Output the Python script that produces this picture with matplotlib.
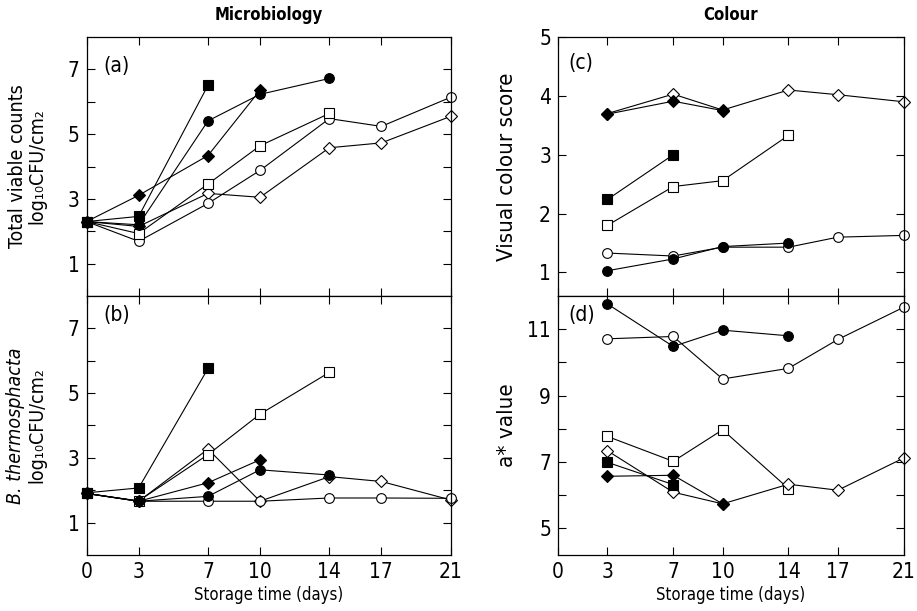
import matplotlib
matplotlib.use("Agg")
import matplotlib.pyplot as plt
import matplotlib.font_manager as fm
from matplotlib.ticker import FixedLocator

# the reference uses a condensed sans; take one if the machine has it
narrow = None
for f in fm.fontManager.ttflist:
    if ('Narrow' in f.name or 'Condensed' in f.name or
            f.stretch in ('condensed', 'semi-condensed', 'extra-condensed')):
        narrow = f
        break

if narrow is not None:
    plt.rcParams['font.family'] = [narrow.name, 'DejaVu Sans']
    plt.rcParams['font.stretch'] = narrow.stretch
    sz = dict(tick=15, ylab=14, ylab2=16, title=12, xlab=12, panel=15)
else:
    plt.rcParams['font.family'] = ['Liberation Sans', 'DejaVu Sans']
    sz = dict(tick=13, ylab=11, ylab2=12, title=11.5, xlab=11, panel=13)

days = [0, 3, 7, 10, 14, 17, 21]

# (a) total viable counts, log10 CFU/cm2
a_oc_x = [0, 3, 7, 10, 14, 17, 21]
a_oc_y = [2.3, 1.69, 2.86, 3.88, 5.48, 5.24, 6.14]
a_fc_x = [0, 3, 7, 10, 14]
a_fc_y = [2.3, 2.2, 5.41, 6.23, 6.72]
a_os_x = [0, 3, 7, 10, 14]
a_os_y = [2.3, 1.93, 3.46, 4.64, 5.64]
a_fs_x = [0, 3, 7]
a_fs_y = [2.3, 2.46, 6.51]
a_od_x = [0, 3, 7, 10, 14, 17, 21]
a_od_y = [2.3, 2.15, 3.17, 3.05, 4.58, 4.73, 5.55]
a_fd_x = [0, 3, 7, 10]
a_fd_y = [2.3, 3.11, 4.34, 6.36]

# (b) B. thermosphacta
b_oc_x = [0, 3, 7, 10, 14, 17, 21]
b_oc_y = [1.9, 1.66, 1.66, 1.66, 1.76, 1.76, 1.75]
b_fc_x = [0, 3, 7, 10, 14]
b_fc_y = [1.9, 1.66, 1.81, 2.63, 2.47]
b_os_x = [0, 3, 7, 10, 14]
b_os_y = [1.9, 1.67, 3.10, 4.35, 5.64]
b_fs_x = [0, 3, 7]
b_fs_y = [1.92, 2.07, 5.76]
b_od_x = [0, 3, 7, 10, 14, 17, 21]
b_od_y = [1.9, 1.66, 3.27, 1.66, 2.42, 2.27, 1.70]
b_fd_x = [0, 3, 7, 10]
b_fd_y = [1.9, 1.66, 2.23, 2.94]

# (c) visual colour score
c_oc_x = [3, 7, 10, 14, 17, 21]
c_oc_y = [1.33, 1.28, 1.43, 1.43, 1.60, 1.63]
c_fc_x = [3, 7, 10, 14]
c_fc_y = [1.03, 1.23, 1.44, 1.50]
c_os_x = [3, 7, 10, 14]
c_os_y = [1.80, 2.46, 2.56, 3.33]
c_fs_x = [3, 7]
c_fs_y = [2.24, 3.00]
c_od_x = [3, 7, 10, 14, 17, 21]
c_od_y = [3.70, 4.03, 3.76, 4.10, 4.02, 3.90]
c_fd_x = [3, 7, 10]
c_fd_y = [3.69, 3.91, 3.75]

# (d) a* value
d_oc_x = [3, 7, 10, 14, 17, 21]
d_oc_y = [10.71, 10.78, 9.50, 9.82, 10.69, 11.66]
d_fc_x = [3, 7, 10, 14]
d_fc_y = [11.76, 10.48, 10.97, 10.80]
d_os_x = [3, 7, 10, 14]
d_os_y = [7.77, 7.02, 7.97, 6.20]
d_fs_x = [3, 7]
d_fs_y = [6.99, 6.32]
d_od_x = [3, 7, 10, 14, 17, 21]
d_od_y = [7.34, 6.09, 5.74, 6.33, 6.15, 7.12]
d_fd_x = [3, 7, 10]
d_fd_y = [6.57, 6.60, 5.74]

fig = plt.figure(figsize=(9.17, 6.11), dpi=100)
ax_a = fig.add_axes([0.0945, 0.5155, 0.397, 0.4239])
ax_b = fig.add_axes([0.0945, 0.0917, 0.397, 0.4239])
ax_c = fig.add_axes([0.6085, 0.5155, 0.377, 0.4239])
ax_d = fig.add_axes([0.6085, 0.0917, 0.377, 0.4239])

styles = {
    'od': dict(marker='D', ms=6, mfc='white'),
    'oc': dict(marker='o', ms=7, mfc='white'),
    'os': dict(marker='s', ms=6.5, mfc='white'),
    'fc': dict(marker='o', ms=7, mfc='black'),
    'fd': dict(marker='D', ms=6, mfc='black'),
    'fs': dict(marker='s', ms=6.5, mfc='black'),
}


def draw(ax, series):
    for key, x, y in series:
        ax.plot(x, y, color='black', lw=0.8, mec='black', mew=0.8,
                clip_on=False, **styles[key])


draw(ax_a, [('od', a_od_x, a_od_y), ('oc', a_oc_x, a_oc_y), ('os', a_os_x, a_os_y),
            ('fc', a_fc_x, a_fc_y), ('fd', a_fd_x, a_fd_y), ('fs', a_fs_x, a_fs_y)])
draw(ax_b, [('od', b_od_x, b_od_y), ('oc', b_oc_x, b_oc_y), ('os', b_os_x, b_os_y),
            ('fc', b_fc_x, b_fc_y), ('fd', b_fd_x, b_fd_y), ('fs', b_fs_x, b_fs_y)])
draw(ax_c, [('od', c_od_x, c_od_y), ('fd', c_fd_x, c_fd_y), ('oc', c_oc_x, c_oc_y),
            ('fc', c_fc_x, c_fc_y), ('os', c_os_x, c_os_y), ('fs', c_fs_x, c_fs_y)])
draw(ax_d, [('oc', d_oc_x, d_oc_y), ('fc', d_fc_x, d_fc_y), ('os', d_os_x, d_os_y),
            ('od', d_od_x, d_od_y), ('fs', d_fs_x, d_fs_y), ('fd', d_fd_x, d_fd_y)])

for ax in (ax_a, ax_b, ax_c, ax_d):
    ax.set_xlim(0, 21)
    ax.set_xticks(days)
    ax.tick_params(which='both', direction='in', top=True, right=True,
                   length=6, width=0.8, labelsize=sz['tick'], pad=5)
    for s in ax.spines.values():
        s.set_linewidth(0.9)

for ax in (ax_a, ax_c):
    ax.tick_params(labelbottom=False)

for ax in (ax_a, ax_b):
    ax.set_ylim(0, 8)
    ax.set_yticks([1, 3, 5, 7])
    ax.yaxis.set_minor_locator(FixedLocator([2, 4, 6]))

ax_c.set_ylim(0.6, 5)
ax_c.set_yticks([1, 2, 3, 4, 5])
ax_d.set_ylim(4.2, 12)
ax_d.set_yticks([5, 7, 9, 11])
ax_d.yaxis.set_minor_locator(FixedLocator([6, 8, 10]))

ax_a.set_title('Microbiology', fontsize=sz['title'], fontweight='bold', pad=12)
ax_c.set_title('Colour', fontsize=sz['title'], fontweight='bold', pad=12)

# two-line y labels; for (b) the italic first line is its own text
unit = 'log\u2081\u2080CFU/cm\u2082'
ax_a.set_ylabel('Total viable counts\n' + unit, fontsize=sz['ylab'], linespacing=1.05)
ax_b.set_ylabel(unit, fontsize=sz['ylab'])
ax_c.set_ylabel('Visual colour score', fontsize=sz['ylab2'])
ax_d.set_ylabel('a* value', fontsize=sz['ylab2'])
for ax in (ax_a, ax_b):
    ax.yaxis.set_label_coords(-0.11, 0.5)
for ax in (ax_c, ax_d):
    ax.yaxis.set_label_coords(-0.12, 0.5)
ax_b.text(-0.168, 0.5, 'B. thermosphacta', transform=ax_b.transAxes, rotation=90,
          fontsize=sz['ylab'], style='italic', ha='center', va='bottom',
          rotation_mode='anchor')

for ax in (ax_b, ax_d):
    ax.set_xlabel('Storage time (days)', fontsize=sz['xlab'], labelpad=3)

ax_a.text(0.045, 0.89, '(a)', transform=ax_a.transAxes, fontsize=sz['panel'], va='center')
ax_b.text(0.045, 0.925, '(b)', transform=ax_b.transAxes, fontsize=sz['panel'], va='center')
ax_c.text(0.03, 0.90, '(c)', transform=ax_c.transAxes, fontsize=sz['panel'], va='center')
ax_d.text(0.03, 0.925, '(d)', transform=ax_d.transAxes, fontsize=sz['panel'], va='center')

fig.savefig('out.png', dpi=100)
